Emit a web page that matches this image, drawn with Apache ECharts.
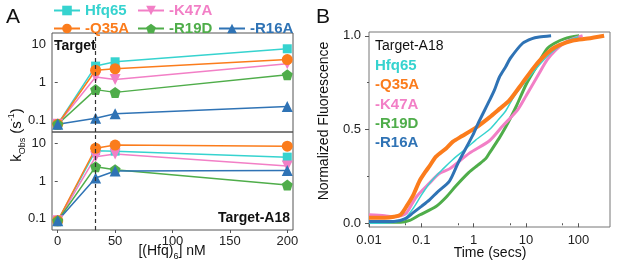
<!DOCTYPE html>
<html>
<head>
<meta charset="utf-8">
<script src="https://cdn.jsdelivr.net/npm/echarts@6/dist/echarts.min.js"></script>
<style>
  html, body { margin: 0; padding: 0; background: #fff; }
  #chart { width: 617px; height: 275px; }
</style>
</head>
<body>
<div id="chart"></div>
<script>
// ---- data ----
const hfqConc = [0, 33, 50, 200]
const dashedConc = 33
const mutantNames = ['Hfq65', '-K47A', '-Q35A', '-R19D', '-R16A']
const panelBLegendOrder = ['Hfq65', '-Q35A', '-K47A', '-R19D', '-R16A']

// panel A, top: Target
const kTargetHfq65 = [0.08, 2.7, 3.5, 7.7]
const kTargetK47A = [0.08, 1.4, 1.2, 3.1]
const kTargetQ35A = [0.08, 2.1, 2.3, 4.0]
const kTargetR19D = [0.08, 0.65, 0.55, 1.6]
const kTargetR16A = [0.08, 0.115, 0.15, 0.235]

// panel A, bottom: Target-A18
const kA18Hfq65 = [0.088, 6.4, 6.2, 4.3]
const kA18K47A = [0.088, 4.4, 5.2, 2.5]
const kA18Q35A = [0.088, 7.4, 9.0, 8.4]
const kA18R19D = [0.088, 2.4, 2.0, 0.78]
const kA18R16A = [0.088, 1.2, 1.85, 1.9]

// panel B: [time (s), normalized fluorescence]
const traceHfq65 = [[0.01, 0], [0.03, 0.005], [0.05, 0.03], [0.07, 0.08], [0.1, 0.15], [0.15, 0.22], [0.26, 0.29],
  [0.4, 0.34], [0.66, 0.39], [1.1, 0.445], [2.0, 0.5], [2.9, 0.55], [4.1, 0.6], [6, 0.68], [11.5, 0.78],
  [20, 0.86], [27.6, 0.9], [43, 0.943], [70, 0.98], [100, 0.995]]
const traceK47A = [[0.01, 0.045], [0.02, 0.04], [0.03, 0.035], [0.04, 0.04], [0.052, 0.055], [0.08, 0.14],
  [0.143, 0.214], [0.22, 0.265], [0.344, 0.29], [0.83, 0.374], [2.0, 0.44], [3.6, 0.52], [6.9, 0.605],
  [10, 0.68], [17.8, 0.8], [25, 0.87], [37, 0.925], [60, 0.97], [120, 1.0]]
const traceQ35A = [[0.01, 0.03], [0.02, 0.03], [0.03, 0.035], [0.04, 0.045], [0.052, 0.09], [0.07, 0.15],
  [0.092, 0.225], [0.12, 0.275], [0.143, 0.305], [0.19, 0.355], [0.3, 0.4], [0.4, 0.435], [0.6, 0.465],
  [1.1, 0.51], [2.0, 0.565], [3.1, 0.61], [4.8, 0.655], [8.6, 0.75], [14, 0.83], [20, 0.88], [30, 0.925],
  [43, 0.95], [78, 0.975], [150, 0.985], [309, 1.0]]
const traceR19D = [[0.01, 0.005], [0.04, 0.005], [0.06, 0.015], [0.092, 0.044], [0.19, 0.089], [0.3, 0.14],
  [0.46, 0.2], [0.8, 0.27], [1.2, 0.31], [1.7, 0.345], [2.0, 0.375], [3.0, 0.45], [4.1, 0.515], [5, 0.56],
  [6.4, 0.62], [10, 0.74], [15.3, 0.83], [25, 0.93], [35, 0.96], [55, 0.985], [103, 1.0]]
const traceR16A = [[0.01, 0.01], [0.03, 0.01], [0.05, 0.025], [0.069, 0.055], [0.1, 0.09], [0.143, 0.125],
  [0.2, 0.165], [0.344, 0.225], [0.5, 0.32], [0.96, 0.47], [1.2, 0.53], [2.0, 0.655], [2.48, 0.71],
  [3.1, 0.78], [4.1, 0.836], [5, 0.88], [8.6, 0.96], [13, 0.985], [17.8, 0.993], [30, 1.0]]

// tick values
const kTicks = [0.1, 1, 10]
const concTicks = [0, 50, 100, 150, 200]
const timeTicks = [0.01, 0.1, 1, 10, 100]
const timeMinorTicks = [0.05, 0.5, 5, 50]
const fluorTicks = [0, 0.5, 1]
const fluorMinorTicks = [0.25, 0.75]

// ---- styles ----
const colors = ['#36d3cf', '#f27fc6', '#fb7c1c', '#4fad4a', '#2f73b5']
const symbols = [
  'rect',
  'path://M0,0 L10,0 L5,8.66 Z',
  'circle',
  'path://M50,0 L97.6,34.5 L79.4,90.5 L20.6,90.5 L2.4,34.5 Z',
  'triangle'
]
const symbolSizes = [9, 11, 11, 11, 11]
const FONT = '"Liberation Sans", Arial, sans-serif'
const AXIS = '#555'

const kTop = [kTargetHfq65, kTargetK47A, kTargetQ35A, kTargetR19D, kTargetR16A]
const kBottom = [kA18Hfq65, kA18K47A, kA18Q35A, kA18R19D, kA18R16A]
const traces = [traceHfq65, traceK47A, traceQ35A, traceR19D, traceR16A]

const dashLine = {
  silent: true,
  symbol: 'none',
  label: { show: false },
  lineStyle: { type: [4, 3], color: '#333', width: 1.2 },
  data: [{ xAxis: dashedConc }]
}

function kSeries(values, i, gridIdx) {
  return {
    type: 'line',
    name: mutantNames[i],
    xAxisIndex: gridIdx,
    yAxisIndex: gridIdx,
    data: hfqConc.map((c, j) => [c, values[j]]),
    symbol: symbols[i],
    symbolSize: symbolSizes[i],
    showSymbol: true,
    clip: false,
    lineStyle: { color: colors[i], width: 1.5 },
    itemStyle: { color: colors[i] },
    markLine: i === 0 ? dashLine : undefined,
    z: 3
  }
}

const series = []
kTop.forEach((v, i) => series.push(kSeries(v, i, 0)))
kBottom.forEach((v, i) => series.push(kSeries(v, i, 1)))
// panel B draw order: green, pink, cyan, orange, blue
;[3, 1, 0, 2, 4].forEach(i => {
  series.push({
    type: 'line',
    name: mutantNames[i] + ' trace',
    xAxisIndex: 2,
    yAxisIndex: 2,
    data: traces[i],
    showSymbol: false,
    smooth: 0.25,
    lineStyle: { color: colors[i], width: i === 0 ? 1.5 : (i === 2 ? 4 : 3) },
    itemStyle: { color: colors[i] }
  })
})

function legendAt(i, left, top) {
  return {
    left, top,
    padding: 0,
    itemWidth: 26,
    itemHeight: 12,
    selectedMode: false,
    textStyle: { fontFamily: FONT, fontSize: 15, fontWeight: 'bold', color: colors[i] },
    data: [{ name: mutantNames[i] }]
  }
}

const labelStyle = { fontFamily: FONT, fontSize: 13, color: '#222' }

const logKAxis = (gridIndex) => ({
  type: 'log',
  gridIndex,
  min: 0.05,
  max: 20,
  axisLine: { show: false },
  splitLine: { show: false },
  axisTick: { customValues: kTicks, length: 3, lineStyle: { color: AXIS } },
  axisLabel: { ...labelStyle, customValues: kTicks, margin: 6, formatter: v => String(v) }
})

const concAxis = (gridIndex, showLabels) => ({
  type: 'value',
  gridIndex,
  min: -5,
  max: 205,
  axisLine: { show: false },
  splitLine: { show: false },
  axisTick: { show: showLabels, customValues: concTicks, length: 3, lineStyle: { color: AXIS } },
  axisLabel: { ...labelStyle, show: showLabels, customValues: concTicks, margin: 5 }
})

const option = {
  animation: false,
  backgroundColor: '#fff',
  grid: [
    { left: 52, top: 33, width: 241, height: 99, show: true, borderColor: AXIS, borderWidth: 1, containLabel: false },
    { left: 52, top: 132, width: 241, height: 98, show: true, borderColor: AXIS, borderWidth: 1, containLabel: false },
    { left: 369, top: 32, width: 241, height: 195, show: true, borderColor: '#777', borderWidth: 1, containLabel: false }
  ],
  xAxis: [
    concAxis(0, false),
    concAxis(1, true),
    {
      type: 'log', gridIndex: 2, min: 0.01, max: 400,
      axisLine: { show: false }, splitLine: { show: false },
      axisTick: { customValues: timeTicks, length: 4, lineStyle: { color: AXIS } },
      axisLabel: { ...labelStyle, customValues: timeTicks, margin: 7, formatter: v => String(v) }
    },
    {
      type: 'log', gridIndex: 2, min: 0.01, max: 400, position: 'bottom',
      axisLine: { show: false }, splitLine: { show: false },
      axisTick: { customValues: timeMinorTicks, length: 2, lineStyle: { color: AXIS } },
      axisLabel: { show: false }
    }
  ],
  yAxis: [
    logKAxis(0),
    logKAxis(1),
    {
      type: 'value', gridIndex: 2, min: -0.02, max: 1.02,
      axisLine: { show: false }, splitLine: { show: false },
      axisTick: { customValues: fluorTicks, length: 4, lineStyle: { color: AXIS } },
      axisLabel: { ...labelStyle, customValues: fluorTicks, margin: 8, formatter: v => v.toFixed(1) }
    },
    {
      type: 'value', gridIndex: 2, min: -0.02, max: 1.02, position: 'left',
      axisLine: { show: false }, splitLine: { show: false },
      axisTick: { customValues: fluorMinorTicks, length: 2, lineStyle: { color: AXIS } },
      axisLabel: { show: false }
    }
  ],
  legend: [
    legendAt(0, 53, 3),
    legendAt(1, 137, 3),
    legendAt(2, 53, 21),
    legendAt(3, 137, 21),
    legendAt(4, 218, 21)
  ],
  graphic: [
    { type: 'text', x: 6, y: 7, style: { text: 'A', font: '21px ' + FONT, fill: '#111' } },
    { type: 'text', x: 316, y: 7, style: { text: 'B', font: '21px ' + FONT, fill: '#111' } },
    { type: 'text', x: 54, y: 39, style: { text: 'Target', font: 'bold 14px ' + FONT, fill: '#111' } },
    { type: 'text', x: 290, y: 218, style: { text: 'Target-A18', font: 'bold 14px ' + FONT, fill: '#111', align: 'right', verticalAlign: 'middle' } },
    {
      type: 'text', x: 17, y: 135, rotation: Math.PI / 2,
      style: {
        text: 'k{sub|Obs} (s{sup|-1})', align: 'center', verticalAlign: 'middle',
        font: '15px ' + FONT, fill: '#111', lineHeight: 20,
        rich: {
          sub: { fontSize: 9, fontFamily: FONT, lineHeight: 9, verticalAlign: 'bottom', fill: '#111' },
          sup: { fontSize: 9, fontFamily: FONT, lineHeight: 9, verticalAlign: 'top', fill: '#111' }
        }
      }
    },
    {
      type: 'text', x: 172, y: 251,
      style: {
        text: '[(Hfq){sub|6}] nM', align: 'center', verticalAlign: 'middle',
        font: '14px ' + FONT, fill: '#111', lineHeight: 20,
        rich: { sub: { fontSize: 9, fontFamily: FONT, lineHeight: 9, verticalAlign: 'bottom', fill: '#111' } }
      }
    },
    {
      type: 'text', x: 324, y: 121, rotation: Math.PI / 2,
      style: { text: 'Normalized Fluorescence', align: 'center', verticalAlign: 'middle', font: '14px ' + FONT, fill: '#111' }
    },
    { type: 'text', x: 490, y: 253, style: { text: 'Time (secs)', align: 'center', verticalAlign: 'middle', font: '14px ' + FONT, fill: '#111' } },
    { type: 'text', x: 375, y: 46, style: { text: 'Target-A18', verticalAlign: 'middle', font: '14px ' + FONT, fill: '#111' } },
    ...panelBLegendOrder.map((n, k) => ({
      type: 'text', x: 375, y: 66 + k * 19.3,
      style: { text: n, verticalAlign: 'middle', font: 'bold 15px ' + FONT, fill: colors[mutantNames.indexOf(n)] }
    }))
  ],
  series
}

const chart = echarts.init(document.getElementById('chart'), null, { renderer: 'canvas' })
chart.setOption(option)
</script>
</body>
</html>
